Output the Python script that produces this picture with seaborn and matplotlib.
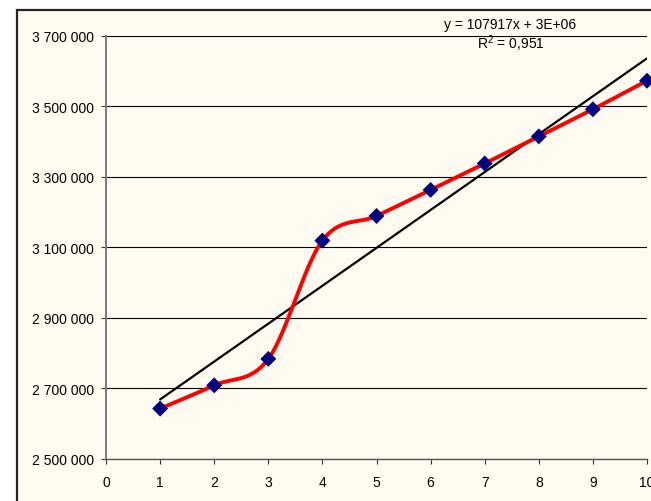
import numpy as np
import pandas as pd
import seaborn as sns
import matplotlib
matplotlib.use('Agg')
import matplotlib.pyplot as plt
from matplotlib.patches import Rectangle
from matplotlib.ticker import FuncFormatter

years = [1, 2, 3, 4, 5, 6, 7, 8, 9, 10]
values = [2642000, 2708000, 2783000, 3119000, 3189000,
          3263000, 3338000, 3415000, 3492000, 3573000]
eq_text = 'y = 107917x + 3E+06'
r2_text = 'R$^2$ = 0,951'

df = pd.DataFrame({'x': years, 'y': values})

sns.set_theme(style='white')
plt.rcParams['font.family'] = ['Liberation Sans', 'DejaVu Sans']
plt.rcParams['mathtext.fontset'] = 'custom'
plt.rcParams['mathtext.rm'] = 'Liberation Sans'
plt.rcParams['mathtext.it'] = 'Liberation Sans'

bg = '#FFFBF0'


def smooth(xv, yv, n=30):
    # excel-like smoothed line: bezier segments with catmull-rom controls
    p = np.column_stack([xv, yv]).astype(float)
    p = np.vstack([p[0], p, p[-1]])
    out = []
    t = np.linspace(0, 1, n)[:, None]
    for i in range(1, len(p) - 2):
        p0, p1 = p[i], p[i + 1]
        c1 = p0 + (p[i + 1] - p[i - 1]) / 6
        c2 = p1 - (p[i + 2] - p[i]) / 6
        seg = ((1 - t) ** 3) * p0 + 3 * ((1 - t) ** 2) * t * c1 + 3 * (1 - t) * t ** 2 * c2 + t ** 3 * p1
        out.append(seg if i == 1 else seg[1:])
    out = np.vstack(out)
    return out[:, 0], out[:, 1]


fig = plt.figure(figsize=(6.51, 5.02), dpi=100)
fig.patch.set_facecolor('white')
fig.patches.append(Rectangle((17 / 651, -0.1), 1.2, 1 - 11 / 502 + 0.1,
                             transform=fig.transFigure, facecolor=bg,
                             edgecolor='#222222', linewidth=1.6, zorder=-1))

ax = fig.add_axes([106 / 651, 1 - 459.6 / 502, 541 / 651, 422.6 / 502])
ax.set_facecolor(bg)
ax.patch.set_alpha(0)

sx, sy = smooth(df['x'], df['y'])
sns.regplot(data=df, x='x', y='y', scatter=False, ci=None, truncate=True,
            line_kws=dict(color='black', linewidth=1.6, zorder=3), ax=ax)
sns.lineplot(x=sx, y=sy, sort=False, estimator=None, color='#FF0000',
             linewidth=2.8, ax=ax, zorder=4)
sns.scatterplot(data=df, x='x', y='y', marker='D', s=66, color='#000080',
                edgecolor='none', linewidth=0, ax=ax, zorder=5, clip_on=False)

ax.set_xlim(0, 10)
ax.set_ylim(2500000, 3700000)
ax.set_xticks(range(0, 11))
ax.set_yticks(range(2500000, 3700001, 200000))
ax.yaxis.set_major_formatter(FuncFormatter(lambda v, p: f'{int(v):,}'.replace(',', ' ')))
ax.set_xlabel('')
ax.set_ylabel('')

ax.grid(axis='y', color='black', linewidth=0.8)
ax.grid(axis='x', visible=False)
ax.set_axisbelow(True)

for s in ['top', 'right']:
    ax.spines[s].set_visible(False)
ax.spines['left'].set_color('#7a7a7a')
ax.spines['left'].set_linewidth(1.4)
ax.spines['bottom'].set_color('#555555')
ax.spines['bottom'].set_linewidth(1.0)

ax.tick_params(axis='both', which='major', direction='out', length=3.5,
               width=0.8, color='#333333', labelsize=10, labelcolor='black',
               left=True, bottom=True)
ax.tick_params(axis='y', pad=5)
ax.tick_params(axis='x', pad=8)

fig.text(510.5 / 651, 1 - 25 / 502, eq_text, ha='center', va='center',
         fontsize=10, color='black')
fig.text(510.5 / 651, 1 - 44 / 502, r2_text, ha='center', va='center',
         fontsize=10, color='black')

fig.savefig('out.png', dpi=100, facecolor=fig.get_facecolor())
